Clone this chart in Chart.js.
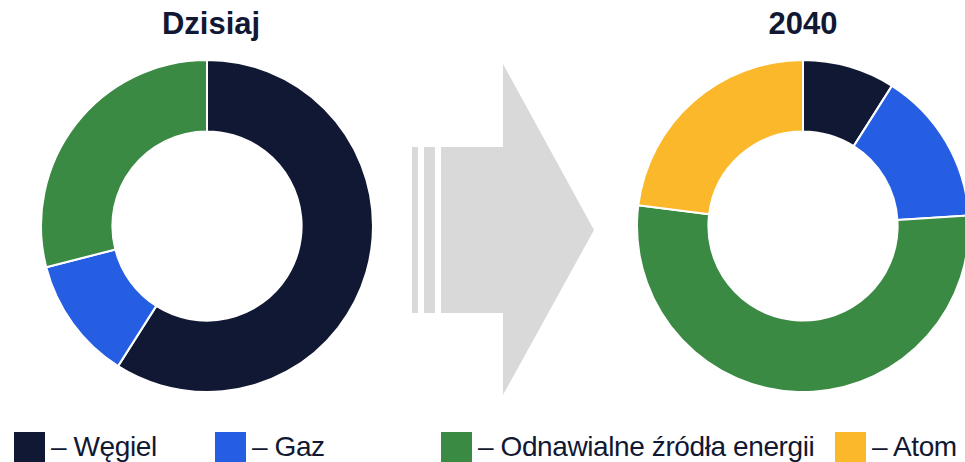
<!DOCTYPE html>
<html>
<head>
<meta charset="utf-8">
<script src="https://cdn.jsdelivr.net/npm/chart.js@4"></script>
<style>
  html, body { margin: 0; padding: 0; background: #fff; }
  body { width: 965px; height: 462px; position: relative; overflow: hidden; font-family: "Liberation Sans", Arial, sans-serif; color: #111833; }
  .title { position: absolute; top: 4px; width: 200px; text-align: center; font-weight: bold; font-size: 31px; line-height: 40px; }
  .chart { position: absolute; top: 58.5px; width: 334px; height: 334px; }
  .legend-item { position: absolute; top: 432px; display: flex; align-items: flex-start; font-size: 28px; line-height: 30px; white-space: nowrap; letter-spacing: -0.4px; }
  .legend-item .box { width: 31px; height: 34px; margin-right: 6px; }
  #arrow { position: absolute; left: 0; top: 0; }
</style>
</head>
<body>
<div class="title" style="left:111px">Dzisiaj</div>
<div class="title" style="left:703px">2040</div>

<svg id="arrow" width="965" height="462">
  <rect x="412" y="147" width="6" height="166" fill="#d9d9d9"/>
  <rect x="424" y="147" width="11" height="166" fill="#d9d9d9"/>
  <polygon points="441,147 503,147 503,64 594,230 503,395 503,313 441,313" fill="#d9d9d9"/>
</svg>

<canvas id="today" class="chart" style="left:39.8px"></canvas>
<canvas id="future" class="chart" style="left:635.6px"></canvas>

<div id="legend"></div>

<script>
const categories = ['Węgiel', 'Gaz', 'Odnawialne źródła energii', 'Atom'];
const todayValues = [59, 12, 29, 0];
const futureValues = [9, 15, 53, 23];
const colors = ['#111833', '#255ee3', '#3a8a44', '#fab82a'];
const legendX = [14, 215, 441, 835];

function makeDoughnut(id, values) {
  new Chart(document.getElementById(id), {
    type: 'doughnut',
    data: {
      labels: categories,
      datasets: [{ data: values, backgroundColor: colors, borderColor: '#ffffff', borderWidth: 2 }]
    },
    options: {
      responsive: false,
      animation: false,
      cutout: '57%',
      layout: { padding: 0 },
      plugins: { legend: { display: false }, tooltip: { enabled: false } }
    }
  });
}

makeDoughnut('today', todayValues);
makeDoughnut('future', futureValues);

const legend = document.getElementById('legend');
categories.forEach((name, i) => {
  const item = document.createElement('div');
  item.className = 'legend-item';
  item.style.left = legendX[i] + 'px';
  item.innerHTML = `<span class="box" style="background:${colors[i]}"></span><span>– ${name}</span>`;
  legend.appendChild(item);
});
</script>
</body>
</html>
